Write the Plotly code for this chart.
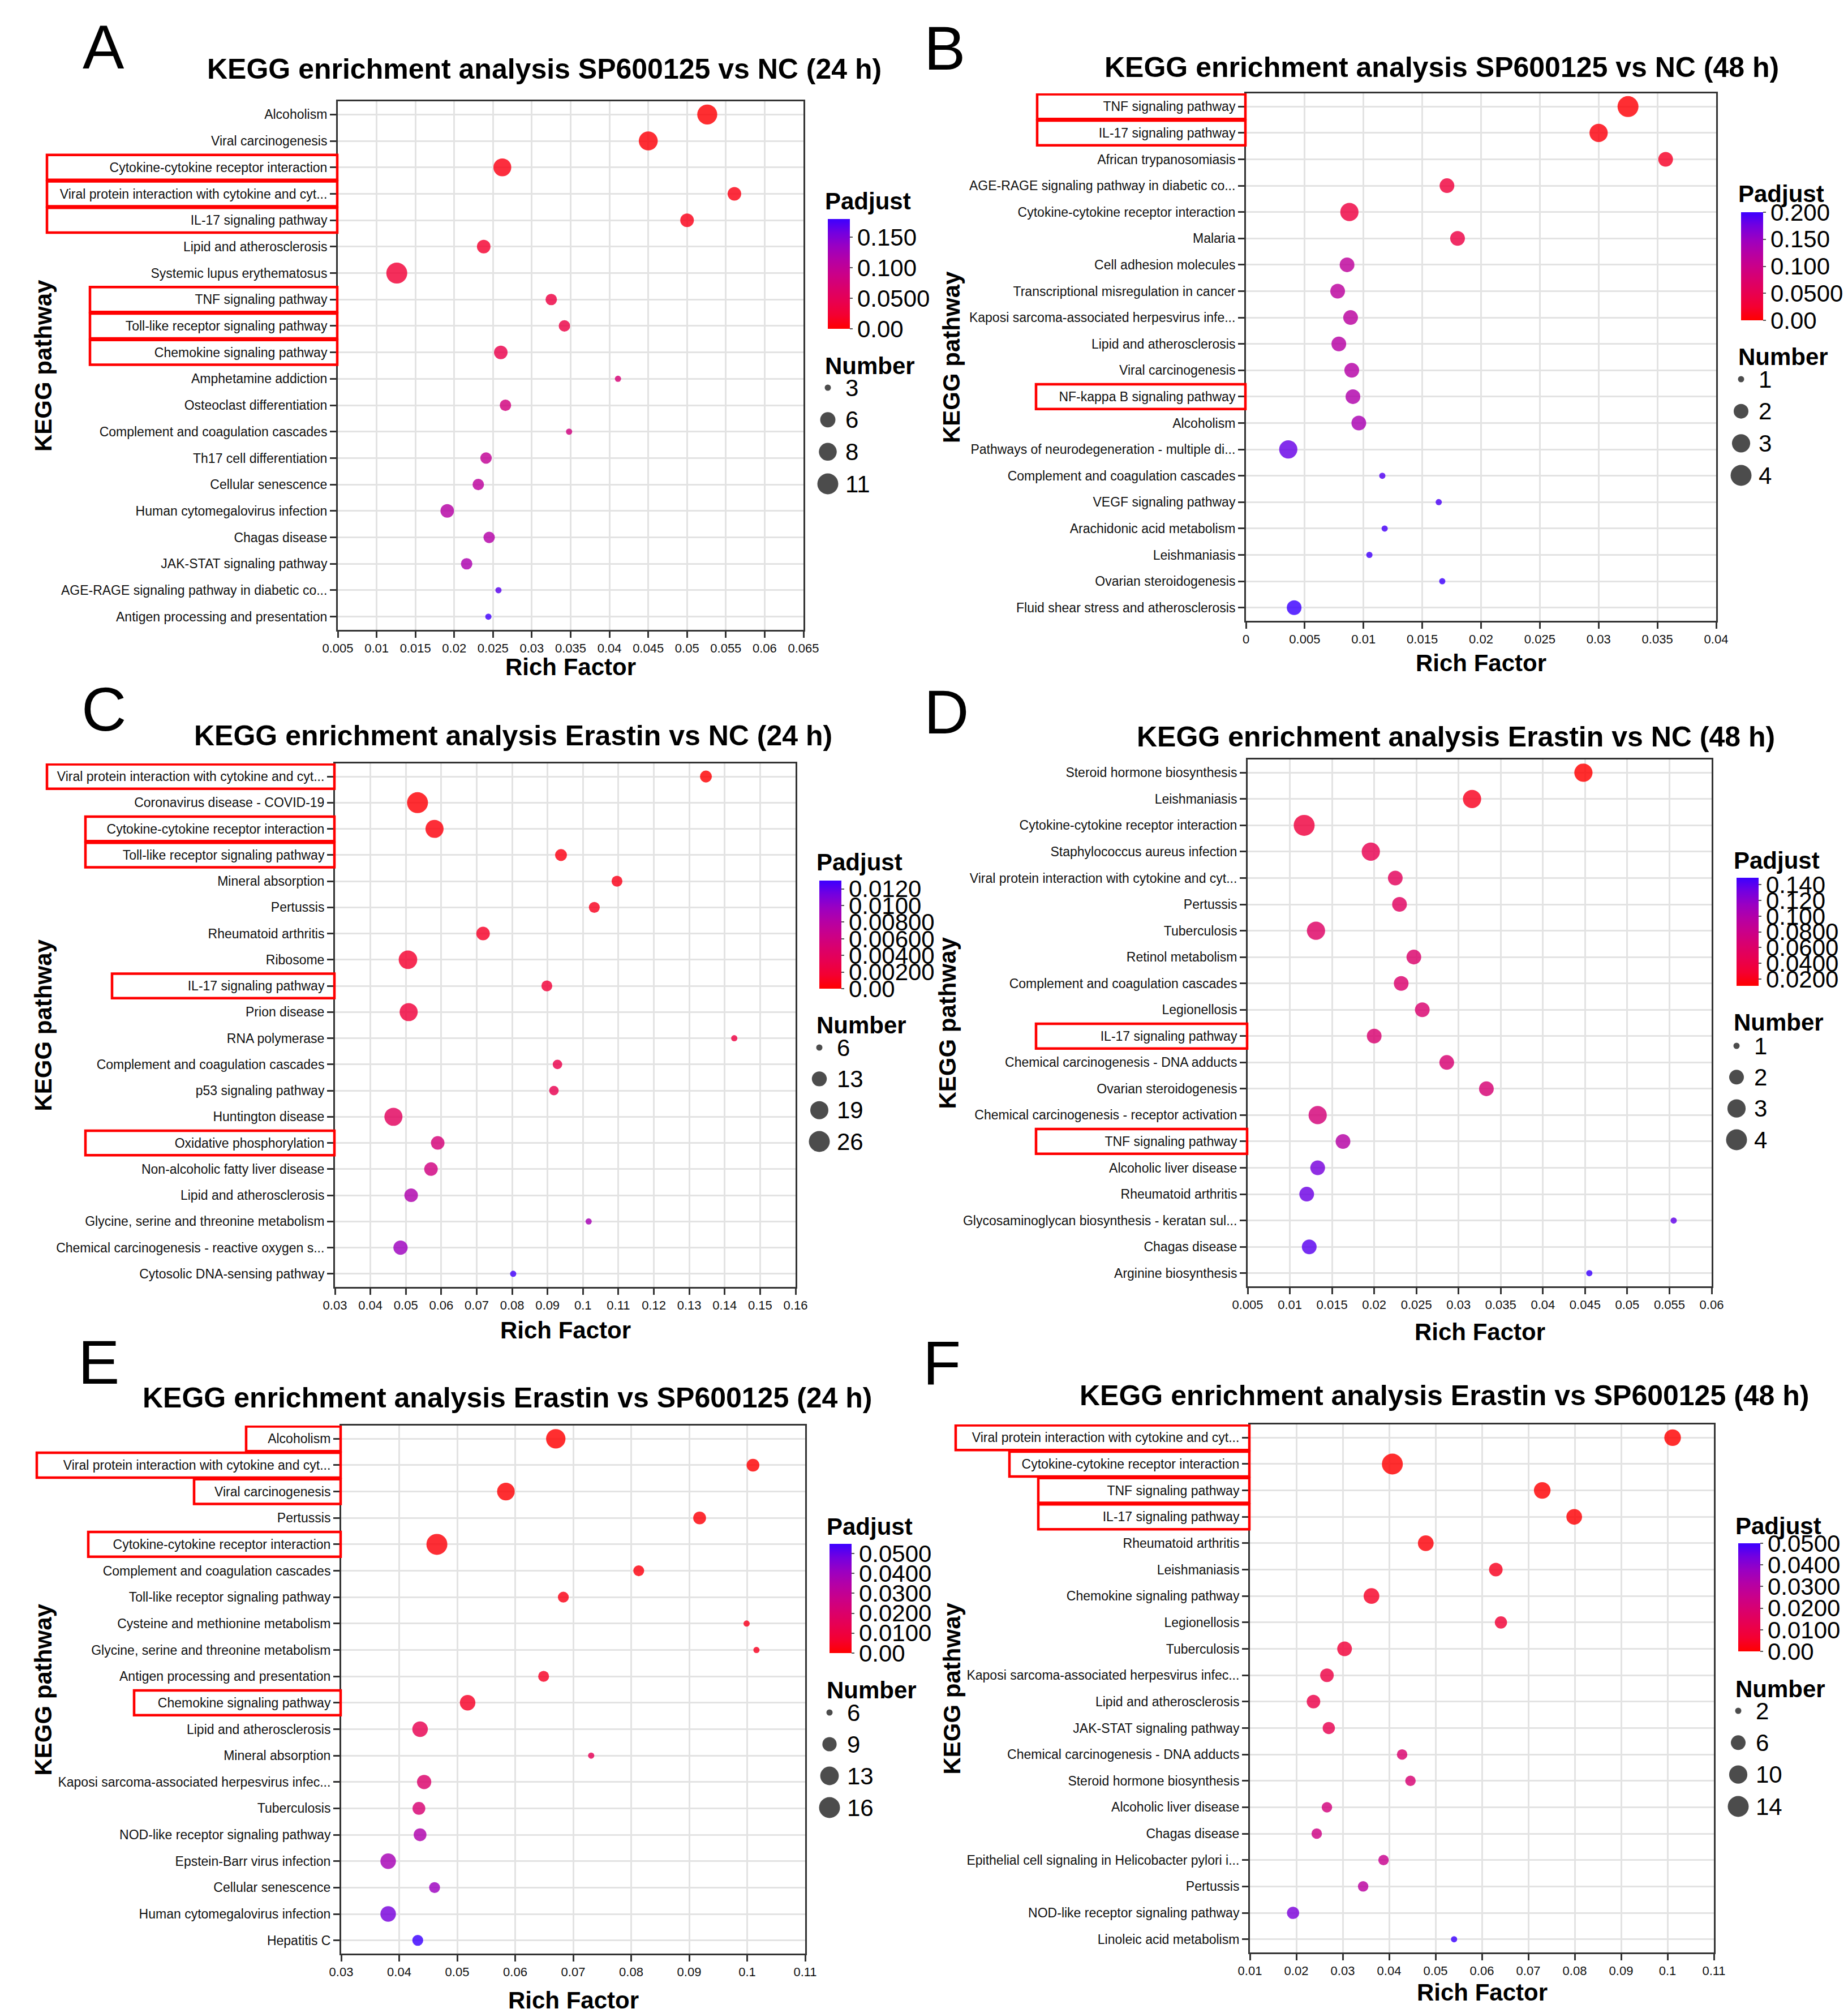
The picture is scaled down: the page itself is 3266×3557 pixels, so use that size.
import plotly.graph_objects as go

W = 3266
H = 3557
FONT = "Arial, Liberation Sans, Helvetica, sans-serif"

# ---------------- data ----------------
titles = ["KEGG enrichment analysis SP600125 vs NC (24 h)",
          "KEGG enrichment analysis SP600125 vs NC (48 h)",
          "KEGG enrichment analysis Erastin vs NC (24 h)",
          "KEGG enrichment analysis Erastin vs NC (48 h)",
          "KEGG enrichment analysis Erastin vs SP600125 (24 h)",
          "KEGG enrichment analysis Erastin vs SP600125 (48 h)"]
letters = ["A", "B", "C", "D", "E", "F"]

pathways_a = ["Alcoholism", "Viral carcinogenesis", "Cytokine-cytokine receptor interaction",
              "Viral protein interaction with cytokine and cyt...", "IL-17 signaling pathway",
              "Lipid and atherosclerosis", "Systemic lupus erythematosus", "TNF signaling pathway",
              "Toll-like receptor signaling pathway", "Chemokine signaling pathway",
              "Amphetamine addiction", "Osteoclast differentiation",
              "Complement and coagulation cascades", "Th17 cell differentiation",
              "Cellular senescence", "Human cytomegalovirus infection", "Chagas disease",
              "JAK-STAT signaling pathway", "AGE-RAGE signaling pathway in diabetic co...",
              "Antigen processing and presentation"]
rich_a = [0.0526, 0.0450, 0.0262, 0.0561, 0.0500, 0.0238, 0.0126, 0.0325, 0.0342, 0.0260,
          0.0411, 0.0266, 0.0348, 0.0241, 0.0231, 0.0191, 0.0245, 0.0216, 0.0257, 0.0244]
padj_a = [0.002, 0.004, 0.009, 0.009, 0.011, 0.022, 0.027, 0.035, 0.038, 0.042,
          0.074, 0.080, 0.082, 0.100, 0.105, 0.112, 0.114, 0.120, 0.168, 0.178]
count_a = [10, 9, 8, 5, 5, 5, 11, 4, 4, 5, 3, 4, 3, 4, 4, 5, 4, 4, 3, 3]
breaks_a = [3, 6, 8, 11]
cb_vals_a = [0.0, 0.05, 0.10, 0.15]
cb_text_a = ["0.00", "0.0500", "0.100", "0.150"]

pathways_b = ["TNF signaling pathway", "IL-17 signaling pathway", "African trypanosomiasis",
              "AGE-RAGE signaling pathway in diabetic co...", "Cytokine-cytokine receptor interaction",
              "Malaria", "Cell adhesion molecules", "Transcriptional misregulation in cancer",
              "Kaposi sarcoma-associated herpesvirus infe...", "Lipid and atherosclerosis",
              "Viral carcinogenesis", "NF-kappa B signaling pathway", "Alcoholism",
              "Pathways of neurodegeneration - multiple di...", "Complement and coagulation cascades",
              "VEGF signaling pathway", "Arachidonic acid metabolism", "Leishmaniasis",
              "Ovarian steroidogenesis", "Fluid shear stress and atherosclerosis"]
rich_b = [0.0325, 0.0300, 0.0357, 0.0171, 0.0088, 0.0180, 0.0086, 0.0078, 0.0089, 0.0079,
          0.0090, 0.0091, 0.0096, 0.0036, 0.0116, 0.0164, 0.0118, 0.0105, 0.0167, 0.0041]
padj_b = [0.003, 0.006, 0.020, 0.034, 0.038, 0.040, 0.116, 0.118, 0.120, 0.124,
          0.126, 0.130, 0.136, 0.180, 0.190, 0.193, 0.195, 0.197, 0.199, 0.200]
count_b = [4, 3, 2, 2, 3, 2, 2, 2, 2, 2, 2, 2, 2, 3, 1, 1, 1, 1, 1, 2]
breaks_b = [1, 2, 3, 4]
cb_vals_b = [0.0, 0.05, 0.10, 0.15, 0.20]
cb_text_b = ["0.00", "0.0500", "0.100", "0.150", "0.200"]

pathways_c = ["Viral protein interaction with cytokine and cyt...", "Coronavirus disease - COVID-19",
              "Cytokine-cytokine receptor interaction", "Toll-like receptor signaling pathway",
              "Mineral absorption", "Pertussis", "Rheumatoid arthritis", "Ribosome",
              "IL-17 signaling pathway", "Prion disease", "RNA polymerase",
              "Complement and coagulation cascades", "p53 signaling pathway", "Huntington disease",
              "Oxidative phosphorylation", "Non-alcoholic fatty liver disease",
              "Lipid and atherosclerosis", "Glycine, serine and threonine metabolism",
              "Chemical carcinogenesis - reactive oxygen s...", "Cytosolic DNA-sensing pathway"]
rich_c = [0.1347, 0.0533, 0.0581, 0.0938, 0.1096, 0.1032, 0.0718, 0.0506, 0.0898, 0.0508,
          0.1427, 0.0928, 0.0918, 0.0465, 0.0590, 0.0571, 0.0515, 0.1016, 0.0485, 0.0803]
padj_c = [0.0001, 0.0002, 0.0004, 0.0006, 0.0008, 0.0010, 0.0013, 0.0016, 0.0020, 0.0022,
          0.0025, 0.0030, 0.0032, 0.0040, 0.0055, 0.0060, 0.0085, 0.0090, 0.0095, 0.0128]
count_c = [9, 26, 19, 9, 8, 8, 11, 20, 8, 19, 6, 7, 7, 19, 11, 11, 11, 6, 12, 6]
breaks_c = [6, 13, 19, 26]
cb_vals_c = [0.0, 0.002, 0.004, 0.006, 0.008, 0.010, 0.012]
cb_text_c = ["0.00", "0.00200", "0.00400", "0.00600", "0.00800", "0.0100", "0.0120"]

pathways_d = ["Steroid hormone biosynthesis", "Leishmaniasis", "Cytokine-cytokine receptor interaction",
              "Staphylococcus aureus infection", "Viral protein interaction with cytokine and cyt...",
              "Pertussis", "Tuberculosis", "Retinol metabolism", "Complement and coagulation cascades",
              "Legionellosis", "IL-17 signaling pathway", "Chemical carcinogenesis - DNA adducts",
              "Ovarian steroidogenesis", "Chemical carcinogenesis - receptor activation",
              "TNF signaling pathway", "Alcoholic liver disease", "Rheumatoid arthritis",
              "Glycosaminoglycan biosynthesis - keratan sul...", "Chagas disease",
              "Arginine biosynthesis"]
rich_d = [0.0448, 0.0316, 0.0117, 0.0196, 0.0225, 0.0230, 0.0131, 0.0247, 0.0232, 0.0257,
          0.0200, 0.0286, 0.0333, 0.0133, 0.0163, 0.0133, 0.0120, 0.0555, 0.0123, 0.0455]
padj_d = [0.0113, 0.022, 0.036, 0.046, 0.052, 0.055, 0.058, 0.062, 0.063, 0.064,
          0.065, 0.066, 0.067, 0.070, 0.097, 0.130, 0.134, 0.137, 0.140, 0.149]
count_d = [3, 3, 4, 3, 2, 2, 3, 2, 2, 2, 2, 2, 2, 3, 2, 2, 2, 1, 2, 1]
breaks_d = [1, 2, 3, 4]
cb_vals_d = [0.02, 0.04, 0.06, 0.08, 0.10, 0.12, 0.14]
cb_text_d = ["0.0200", "0.0400", "0.0600", "0.0800", "0.100", "0.120", "0.140"]

pathways_e = ["Alcoholism", "Viral protein interaction with cytokine and cyt...", "Viral carcinogenesis",
              "Pertussis", "Cytokine-cytokine receptor interaction",
              "Complement and coagulation cascades", "Toll-like receptor signaling pathway",
              "Cysteine and methionine metabolism", "Glycine, serine and threonine metabolism",
              "Antigen processing and presentation", "Chemokine signaling pathway",
              "Lipid and atherosclerosis", "Mineral absorption",
              "Kaposi sarcoma-associated herpesvirus infec...", "Tuberculosis",
              "NOD-like receptor signaling pathway", "Epstein-Barr virus infection",
              "Cellular senescence", "Human cytomegalovirus infection", "Hepatitis C"]
rich_e = [0.0670, 0.1010, 0.0584, 0.0918, 0.0465, 0.0813, 0.0683, 0.0999, 0.1016, 0.0649,
          0.0518, 0.0436, 0.0731, 0.0443, 0.0434, 0.0436, 0.0381, 0.0461, 0.0381, 0.0432]
padj_e = [0.0002, 0.0004, 0.0005, 0.0010, 0.0012, 0.0020, 0.0030, 0.0040, 0.0045, 0.0050,
          0.0055, 0.0137, 0.0150, 0.0200, 0.0220, 0.0360, 0.0380, 0.0405, 0.0470, 0.0548]
count_e = [14, 8, 12, 8, 16, 7, 7, 6, 6, 7, 10, 10, 6, 9, 8, 8, 10, 7, 10, 7]
breaks_e = [6, 9, 13, 16]
cb_vals_e = [0.0, 0.01, 0.02, 0.03, 0.04, 0.05]
cb_text_e = ["0.00", "0.0100", "0.0200", "0.0300", "0.0400", "0.0500"]

pathways_f = ["Viral protein interaction with cytokine and cyt...", "Cytokine-cytokine receptor interaction",
              "TNF signaling pathway", "IL-17 signaling pathway", "Rheumatoid arthritis",
              "Leishmaniasis", "Chemokine signaling pathway", "Legionellosis", "Tuberculosis",
              "Kaposi sarcoma-associated herpesvirus infec...", "Lipid and atherosclerosis",
              "JAK-STAT signaling pathway", "Chemical carcinogenesis - DNA adducts",
              "Steroid hormone biosynthesis", "Alcoholic liver disease", "Chagas disease",
              "Epithelial cell signaling in Helicobacter pylori i...", "Pertussis",
              "NOD-like receptor signaling pathway", "Linoleic acid metabolism"]
rich_f = [0.1011, 0.0407, 0.0730, 0.0799, 0.0479, 0.0630, 0.0362, 0.0641, 0.0304, 0.0266,
          0.0237, 0.0270, 0.0428, 0.0446, 0.0266, 0.0244, 0.0388, 0.0344, 0.0193, 0.0540]
padj_f = [0.00005, 0.0001, 0.0003, 0.0005, 0.0010, 0.0040, 0.0050, 0.0072, 0.0078, 0.0100,
          0.0110, 0.0125, 0.0190, 0.0200, 0.0220, 0.0240, 0.0260, 0.0300, 0.0425, 0.0500]
count_f = [8, 14, 8, 7, 7, 5, 7, 4, 6, 5, 5, 4, 3, 3, 3, 3, 3, 3, 4, 2]
breaks_f = [2, 6, 10, 14]
cb_vals_f = [0.0, 0.01, 0.02, 0.03, 0.04, 0.05]
cb_text_f = ["0.00", "0.0100", "0.0200", "0.0300", "0.0400", "0.0500"]

# pathways boxed in red on each panel
boxed_a = ["Cytokine-cytokine receptor interaction", "Viral protein interaction with cytokine and cyt...",
           "IL-17 signaling pathway", "TNF signaling pathway", "Toll-like receptor signaling pathway",
           "Chemokine signaling pathway"]
boxed_b = ["TNF signaling pathway", "IL-17 signaling pathway", "NF-kappa B signaling pathway"]
boxed_c = ["Viral protein interaction with cytokine and cyt...", "Cytokine-cytokine receptor interaction",
           "Toll-like receptor signaling pathway", "IL-17 signaling pathway", "Oxidative phosphorylation"]
boxed_d = ["IL-17 signaling pathway", "TNF signaling pathway"]
boxed_e = ["Alcoholism", "Viral protein interaction with cytokine and cyt...", "Viral carcinogenesis",
           "Cytokine-cytokine receptor interaction", "Chemokine signaling pathway"]
boxed_f = ["Viral protein interaction with cytokine and cyt...", "Cytokine-cytokine receptor interaction",
           "TNF signaling pathway", "IL-17 signaling pathway"]

# ---------------- layout of each panel (pixels) ----------------
panels = [
    dict(path=pathways_a, rich=rich_a, padj=padj_a, count=count_a, breaks=breaks_a,
         cbv=cb_vals_a, cbt=cb_text_a, cmin=0.0, cmax=0.18, xr=(0.005, 0.065), dt=0.005,
         boxed=boxed_a, box_left=[75, 75, 75, 151, 151, 151],
         plot=(589, 1412, 171, 1105), title=(954, 114), letter=(175, 74), cbar=(1455, 379, 573),
         pad_y=348, num_y=638, items=(677, 847), ytx=68, xty=1170),
    dict(path=pathways_b, rich=rich_b, padj=padj_b, count=count_b, breaks=breaks_b,
         cbv=cb_vals_b, cbt=cb_text_b, cmin=0.0, cmax=0.20, xr=(0.0, 0.04), dt=0.005,
         boxed=boxed_b, box_left=[1825, 1825, 1823],
         plot=(2194, 3025, 157, 1089), title=(2540, 111), letter=(1661, 77), cbar=(3069, 367, 558),
         pad_y=335, num_y=623, items=(662, 832), ytx=1674, xty=1163),
    dict(path=pathways_c, rich=rich_c, padj=padj_c, count=count_c, breaks=breaks_c,
         cbv=cb_vals_c, cbt=cb_text_c, cmin=0.0, cmax=0.013, xr=(0.03, 0.16), dt=0.01,
         boxed=boxed_c, box_left=[75, 143, 143, 190, 143],
         plot=(584, 1398, 1341, 2266), title=(899, 1292), letter=(175, 1244), cbar=(1440, 1548, 1739),
         pad_y=1516, num_y=1803, items=(1843, 2009), ytx=68, xty=2342),
    dict(path=pathways_d, rich=rich_d, padj=padj_d, count=count_d, breaks=breaks_d,
         cbv=cb_vals_d, cbt=cb_text_d, cmin=0.0113, cmax=0.149, xr=(0.005, 0.06), dt=0.005,
         boxed=boxed_d, box_left=[1823, 1823],
         plot=(2197, 3017, 1334, 2265), title=(2565, 1294), letter=(1664, 1249), cbar=(3061, 1543, 1734),
         pad_y=1512, num_y=1799, items=(1840, 2006), ytx=1666, xty=2345),
    dict(path=pathways_e, rich=rich_e, padj=padj_e, count=count_e, breaks=breaks_e,
         cbv=cb_vals_e, cbt=cb_text_e, cmin=0.0, cmax=0.0548, xr=(0.03, 0.11), dt=0.01,
         boxed=boxed_e, box_left=[427, 57, 335, 148, 229],
         plot=(595, 1415, 2511, 3444), title=(888, 2462), letter=(166, 2398), cbar=(1458, 2720, 2913),
         pad_y=2689, num_y=2978, items=(3018, 3186), ytx=68, xty=3526),
    dict(path=pathways_f, rich=rich_f, padj=padj_f, count=count_f, breaks=breaks_f,
         cbv=cb_vals_f, cbt=cb_text_f, cmin=0.0, cmax=0.05, xr=(0.01, 0.11), dt=0.01,
         boxed=boxed_f, box_left=[1681, 1776, 1827, 1827],
         plot=(2201, 3021, 2509, 3442), title=(2544, 2458), letter=(1656, 2400), cbar=(3064, 2719, 2910),
         pad_y=2688, num_y=2976, items=(3015, 3184), ytx=1674, xty=3512),
]

# red -> blue, roughly like ggplot's Lab gradient
colorscale = [[0.0, "#FF0000"], [0.125, "#F40031"], [0.25, "#E80050"], [0.375, "#DA006C"],
              [0.5, "#CA0089"], [0.625, "#B500A5"], [0.75, "#9A00C2"], [0.875, "#7300E0"],
              [1.0, "#3C00FF"]]

D_MIN = 11
D_MAX = 37


def px_x(px):
    return px / W


def px_y(px):
    return 1 - px / H


def diameters(values, lo, hi):
    # ggplot-style area scale: diameter grows with sqrt of the rescaled count
    return [D_MIN + (D_MAX - D_MIN) * ((v - lo) / (hi - lo)) ** 0.5 for v in values]


fig = go.Figure()
layout = dict(width=W, height=H, margin=dict(l=0, r=0, t=0, b=0, autoexpand=False),
              paper_bgcolor="white", plot_bgcolor="white", showlegend=False,
              font=dict(family=FONT, color="black"))
annotations = []
shapes = []

for i, p in enumerate(panels):
    main = 2 * i + 1
    leg = 2 * i + 2
    xname = "x" if main == 1 else "x%d" % main
    yname = "y" if main == 1 else "y%d" % main
    left, right, top, bottom = p["plot"]
    lo, hi = min(p["count"]), max(p["count"])

    fig.add_trace(go.Scatter(
        x=p["rich"], y=p["path"], mode="markers", xaxis=xname, yaxis=yname,
        marker=dict(size=diameters(p["count"], lo, hi), color=p["padj"], opacity=0.82,
                    colorscale=colorscale, cmin=p["cmin"], cmax=p["cmax"],
                    line=dict(width=0), showscale=True,
                    colorbar=dict(x=px_x(p["cbar"][0]), xanchor="left", xpad=0,
                                  y=px_y(p["cbar"][2]), yanchor="bottom", ypad=0,
                                  len=p["cbar"][2] - p["cbar"][1], lenmode="pixels",
                                  thickness=39, outlinewidth=0,
                                  tickvals=p["cbv"], ticktext=p["cbt"],
                                  ticks="outside", ticklen=5, tickwidth=1.5, tickcolor="#555",
                                  tickfont=dict(size=42, family=FONT, color="black")))))

    layout["xaxis" if main == 1 else "xaxis%d" % main] = dict(
        domain=[px_x(left), px_x(right)], anchor=yname, range=list(p["xr"]),
        tick0=p["xr"][0], dtick=p["dt"], showgrid=True, gridcolor="#E3E3E3", gridwidth=2.5,
        zeroline=False, showline=True, mirror=True, linecolor="#333", linewidth=3,
        ticks="outside", ticklen=11, tickwidth=2.5, tickcolor="#333",
        tickfont=dict(size=22, family=FONT, color="#111"))
    layout["yaxis" if main == 1 else "yaxis%d" % main] = dict(
        domain=[px_y(bottom), px_y(top)], anchor=xname, type="category",
        categoryorder="array", categoryarray=p["path"], range=[len(p["path"]) - 0.5, -0.5],
        showgrid=True, gridcolor="#E3E3E3", gridwidth=2.5,
        zeroline=False, showline=True, mirror=True, linecolor="#333", linewidth=3,
        ticks="outside", ticklen=11, tickwidth=2.5, tickcolor="#333",
        tickfont=dict(size=23, family=FONT, color="#111"))

    # size legend drawn as its own tiny subplot
    cx = p["cbar"][0]
    first, last = p["items"]
    step = (last - first) / (len(p["breaks"]) - 1)
    fig.add_trace(go.Scatter(
        x=[0] * len(p["breaks"]), y=[str(b) for b in p["breaks"]], mode="markers",
        xaxis="x%d" % leg, yaxis="y%d" % leg, hoverinfo="skip",
        marker=dict(size=diameters(p["breaks"], lo, hi), color="black", line=dict(width=0))))
    layout["xaxis%d" % leg] = dict(domain=[px_x(cx - 30), px_x(cx + 30)], anchor="y%d" % leg,
                                   range=[-1, 1], visible=False)
    layout["yaxis%d" % leg] = dict(domain=[px_y(last + step / 2), px_y(first - step / 2)],
                                   anchor="x%d" % leg, side="right", type="category",
                                   categoryorder="array", categoryarray=[str(b) for b in p["breaks"]],
                                   range=[len(p["breaks"]) - 0.5, -0.5], showgrid=False,
                                   zeroline=False, showline=False, ticks="",
                                   tickfont=dict(size=42, family=FONT, color="black"))

    # texts
    annotations.append(dict(text=letters[i], x=px_x(p["letter"][0]), y=px_y(p["letter"][1]),
                            xref="paper", yref="paper", showarrow=False, xanchor="center",
                            yanchor="middle", font=dict(size=110, family=FONT, color="black")))
    annotations.append(dict(text="<b>%s</b>" % titles[i], x=px_x(p["title"][0]), y=px_y(p["title"][1]),
                            xref="paper", yref="paper", showarrow=False, xanchor="center",
                            yanchor="middle", font=dict(size=50, family=FONT, color="black")))
    annotations.append(dict(text="<b>Rich Factor</b>", x=px_x((left + right) / 2), y=px_y(p["xty"]),
                            xref="paper", yref="paper", showarrow=False, xanchor="center",
                            yanchor="middle", font=dict(size=42, family=FONT, color="black")))
    annotations.append(dict(text="<b>KEGG pathway</b>", x=px_x(p["ytx"]), y=px_y((top + bottom) / 2),
                            xref="paper", yref="paper", showarrow=False, xanchor="center",
                            yanchor="middle", textangle=-90,
                            font=dict(size=42, family=FONT, color="black")))
    annotations.append(dict(text="<b>Padjust</b>", x=px_x(cx - 7), y=px_y(p["pad_y"]),
                            xref="paper", yref="paper", showarrow=False, xanchor="left",
                            yanchor="middle", font=dict(size=42, family=FONT, color="black")))
    annotations.append(dict(text="<b>Number</b>", x=px_x(cx - 7), y=px_y(p["num_y"]),
                            xref="paper", yref="paper", showarrow=False, xanchor="left",
                            yanchor="middle", font=dict(size=42, family=FONT, color="black")))

    # red boxes round the highlighted pathway labels
    for name, bl in zip(p["boxed"], p["box_left"]):
        k = p["path"].index(name)
        shapes.append(dict(type="rect", xref="paper", yref=yname,
                           x0=px_x(bl), x1=px_x(left - 1), y0=k - 0.47, y1=k + 0.47,
                           line=dict(color="#FF0000", width=4.5), fillcolor="rgba(0,0,0,0)"))

layout["annotations"] = annotations
layout["shapes"] = shapes
fig.update_layout(**layout)

fig.write_html("out.html")
